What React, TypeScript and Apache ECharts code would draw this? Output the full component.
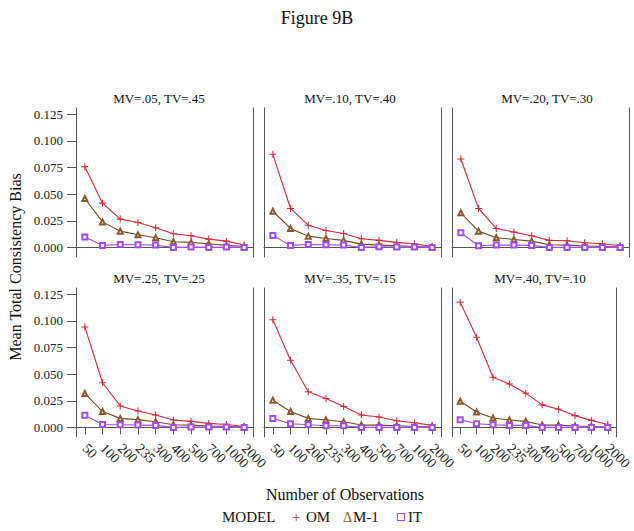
import React, { useEffect, useRef } from "react";
import * as echarts from "echarts";

const categories = ["50", "100", "200", "235", "300", "400", "500", "700", "1000", "2000"];
const panelTitles = [
  "MV=.05, TV=.45",
  "MV=.10, TV=.40",
  "MV=.20, TV=.30",
  "MV=.25, TV=.25",
  "MV=.35, TV=.15",
  "MV=.40, TV=.10",
];
const yTickValues = [0, 0.025, 0.05, 0.075, 0.1, 0.125];

// OM series per panel
const omP1 = [0.0759, 0.0416, 0.0266, 0.0234, 0.0184, 0.0128, 0.0109, 0.0078, 0.0059, 0.0022];
const omP2 = [0.0875, 0.0366, 0.0209, 0.0159, 0.0131, 0.0081, 0.0066, 0.0047, 0.0034, 0.0009];
const omP3 = [0.0831, 0.0366, 0.0178, 0.0144, 0.0109, 0.0066, 0.0063, 0.0044, 0.0034, 0.0016];
const omP4 = [0.0944, 0.042, 0.0202, 0.0155, 0.0117, 0.007, 0.0057, 0.0038, 0.0028, 0.0009];
const omP5 = [0.1011, 0.0632, 0.0335, 0.0272, 0.0196, 0.0117, 0.0098, 0.0063, 0.0044, 0.0019];
const omP6 = [0.1176, 0.0847, 0.0471, 0.0408, 0.0322, 0.0212, 0.0171, 0.0111, 0.0066, 0.0028];

// M-1 series per panel
const m1P1 = [0.046, 0.024, 0.0153, 0.0119, 0.0091, 0.0053, 0.0047, 0.0034, 0.0019, 0.0009];
const m1P2 = [0.034, 0.0178, 0.0106, 0.0084, 0.0066, 0.0031, 0.0022, 0.0016, 0.0009, 0.0003];
const m1P3 = [0.0325, 0.0153, 0.0091, 0.0075, 0.0059, 0.0025, 0.0022, 0.0013, 0.0009, 0.0003];
const m1P4 = [0.0319, 0.0149, 0.0085, 0.0073, 0.0054, 0.0025, 0.0022, 0.0013, 0.0009, 0.0003];
const m1P5 = [0.0256, 0.0149, 0.0085, 0.007, 0.0054, 0.0022, 0.0022, 0.0016, 0.0009, 0.0006];
const m1P6 = [0.0246, 0.0145, 0.0088, 0.007, 0.0057, 0.0022, 0.0022, 0.0013, 0.0009, 0.0003];

// IT series per panel
const itP1 = [0.0097, 0.0019, 0.0028, 0.0025, 0.0022, 0.0, 0.0003, 0.0, 0.0003, 0.0];
const itP2 = [0.0113, 0.0019, 0.0028, 0.0025, 0.0022, 0.0, 0.0006, 0.0003, 0.0003, 0.0];
const itP3 = [0.0138, 0.0016, 0.0022, 0.0022, 0.0019, 0.0, 0.0, 0.0, 0.0, 0.0];
const itP4 = [0.0114, 0.0028, 0.0025, 0.0022, 0.0019, 0.0, 0.0003, 0.0003, 0.0003, 0.0];
const itP5 = [0.0085, 0.0035, 0.0025, 0.0016, 0.0016, 0.0, 0.0, 0.0, 0.0, 0.0];
const itP6 = [0.0073, 0.0035, 0.0025, 0.0019, 0.0019, 0.0, 0.0, 0.0, 0.0, 0.0];

const omData = [omP1, omP2, omP3, omP4, omP5, omP6];
const m1Data = [m1P1, m1P2, m1P3, m1P4, m1P5, m1P6];
const itData = [itP1, itP2, itP3, itP4, itP5, itP6];

const FONT = "Liberation Serif";
const OM_COLOR = "#d22b3e";
const M1_COLOR = "#6f4b2a";
const IT_COLOR = "#a54cf0";
const AXIS_COLOR = "#555";
const PLUS = "path://M3.4,0h1.2v3.4h3.4v1.2h-3.4v3.4h-1.2v-3.4h-3.4v-1.2h3.4z";

const gridLefts = [76, 264, 452];
const gridTops = [108, 288];
const GRID_W = 177;
const GRID_H = 149;
const titleX = [[159, 350, 547], [159, 350, 540]];

export default function App() {
  const ref = useRef<HTMLDivElement>(null);
  useEffect(() => {
    if (!ref.current) return;
    const chart = echarts.init(ref.current, undefined, { renderer: "svg" });
    const grids: any[] = [];
    const xAxes: any[] = [];
    const yAxes: any[] = [];
    const series: any[] = [];
    const graphics: any[] = [];
    for (let i = 0; i < 6; i++) {
      const row = Math.floor(i / 3);
      const col = i % 3;
      grids.push({ left: gridLefts[col], top: gridTops[row], width: GRID_W, height: GRID_H, containLabel: false });
      xAxes.push({
        type: "category",
        gridIndex: i,
        data: categories,
        boundaryGap: true,
        axisLine: { show: true, lineStyle: { color: AXIS_COLOR, width: 1 } },
        axisTick: { show: row === 1, alignWithLabel: true, length: 7, lineStyle: { color: AXIS_COLOR } },
        axisLabel: {
          show: row === 1,
          rotate: -45,
          interval: 0,
          margin: 9,
          fontFamily: FONT,
          fontSize: 14,
          color: "#222",
        },
        splitLine: { show: false },
      });
      yAxes.push({
        type: "value",
        gridIndex: i,
        min: -0.009,
        max: 0.131,
        position: "left",
        axisLine: { show: true, lineStyle: { color: AXIS_COLOR, width: 1 } },
        axisTick: { show: col === 0, length: 9, customValues: yTickValues, lineStyle: { color: AXIS_COLOR } },
        axisLabel: {
          show: col === 0,
          customValues: yTickValues,
          formatter: (v: number) => v.toFixed(3),
          fontFamily: FONT,
          fontSize: 13,
          color: "#222",
          margin: 13,
        },
        splitLine: { show: false },
      });
      yAxes.push({
        type: "value",
        gridIndex: i,
        min: -0.009,
        max: 0.131,
        position: "right",
        axisLine: { show: true, lineStyle: { color: AXIS_COLOR, width: 1 } },
        axisTick: { show: false },
        axisLabel: { show: false },
        splitLine: { show: false },
      });
      series.push({
        type: "line",
        name: "OM",
        xAxisIndex: i,
        yAxisIndex: i * 2,
        data: omData[i],
        symbol: PLUS,
        symbolSize: 7,
        lineStyle: { color: OM_COLOR, width: 1.1 },
        itemStyle: { color: OM_COLOR },
      });
      series.push({
        type: "line",
        name: "M-1",
        xAxisIndex: i,
        yAxisIndex: i * 2,
        data: m1Data[i],
        symbol: "emptyTriangle",
        symbolSize: 5,
        lineStyle: { color: M1_COLOR, width: 1.1 },
        itemStyle: { color: "#8a5a2c", borderWidth: 0.8 },
      });
      series.push({
        type: "line",
        name: "IT",
        xAxisIndex: i,
        yAxisIndex: i * 2,
        data: itData[i],
        symbol: "emptyRect",
        symbolSize: 5,
        lineStyle: { color: IT_COLOR, width: 1.1 },
        itemStyle: { color: IT_COLOR, borderWidth: 0.8 },
      });
      graphics.push({
        type: "text",
        x: titleX[row][col],
        y: gridTops[row] - 10,
        style: {
          text: panelTitles[i],
          fontFamily: FONT,
          fontSize: 13,
          fill: "#111",
          align: "center",
          verticalAlign: "middle",
        },
      });
    }
    graphics.push({
      type: "text",
      x: 317,
      y: 18,
      style: { text: "Figure 9B", fontFamily: FONT, fontSize: 18, fill: "#111", align: "center", verticalAlign: "middle" },
    });
    graphics.push({
      type: "text",
      x: 15,
      y: 267,
      rotation: Math.PI / 2,
      style: {
        text: "Mean Total Consistency Bias",
        fontFamily: FONT,
        fontSize: 16,
        fill: "#111",
        align: "center",
        verticalAlign: "middle",
      },
    });
    graphics.push({
      type: "text",
      x: 345,
      y: 494,
      style: {
        text: "Number of Observations",
        fontFamily: FONT,
        fontSize: 16,
        fill: "#111",
        align: "center",
        verticalAlign: "middle",
      },
    });
    const legendY = 517;
    graphics.push({
      type: "text",
      x: 222,
      y: legendY,
      style: { text: "MODEL", fontFamily: FONT, fontSize: 15, fill: "#111", align: "left", verticalAlign: "middle" },
    });
    graphics.push({
      type: "text",
      x: 292,
      y: legendY,
      style: { text: "+", fontFamily: FONT, fontSize: 15, fill: OM_COLOR, align: "left", verticalAlign: "middle" },
    });
    graphics.push({
      type: "text",
      x: 306,
      y: legendY,
      style: { text: "OM", fontFamily: FONT, fontSize: 15, fill: "#111", align: "left", verticalAlign: "middle" },
    });
    graphics.push({
      type: "text",
      x: 343,
      y: legendY,
      style: { text: "Δ", fontFamily: FONT, fontSize: 14, fill: "#8a5a2c", align: "left", verticalAlign: "middle" },
    });
    graphics.push({
      type: "text",
      x: 353,
      y: legendY,
      style: { text: "M-1", fontFamily: FONT, fontSize: 15, fill: "#111", align: "left", verticalAlign: "middle" },
    });
    graphics.push({
      type: "rect",
      shape: { x: 397.5, y: legendY - 3.5, width: 7, height: 7 },
      style: { fill: "none", stroke: IT_COLOR, lineWidth: 1.1 },
    });
    graphics.push({
      type: "text",
      x: 408,
      y: legendY,
      style: { text: "IT", fontFamily: FONT, fontSize: 15, fill: "#111", align: "left", verticalAlign: "middle" },
    });

    chart.setOption({
      animation: false,
      backgroundColor: "#fff",
      grid: grids,
      xAxis: xAxes,
      yAxis: yAxes,
      series,
      graphic: graphics,
    });
    return () => chart.dispose();
  }, []);
  return <div ref={ref} style={{ position: "fixed", left: 0, top: 0, width: 634, height: 531 }} />;
}
